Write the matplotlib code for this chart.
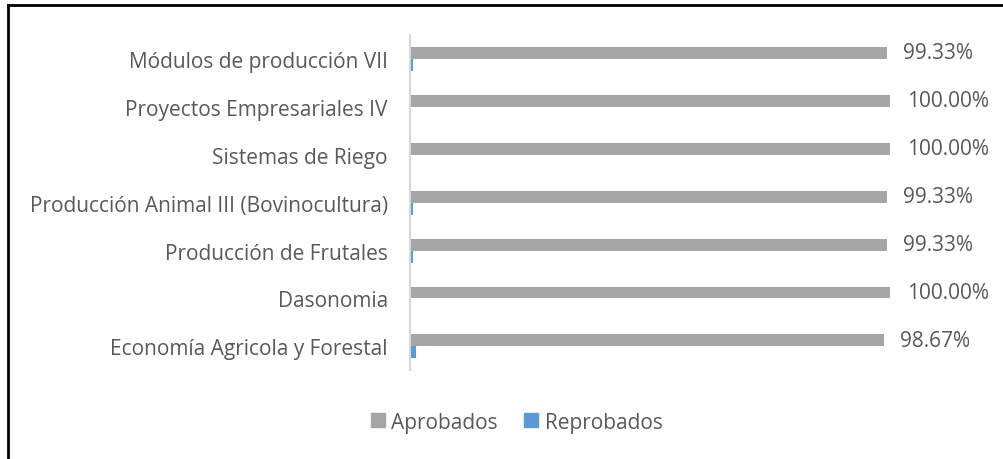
import numpy as np
import matplotlib
matplotlib.use("Agg")
import matplotlib.pyplot as plt
from matplotlib.lines import Line2D
from matplotlib.patches import Patch

# data (top to bottom as shown)
cursos = ["Módulos de producción VII", "Proyectos Empresariales IV", "Sistemas de Riego",
          "Producción Animal III (Bovinocultura)", "Producción de Frutales", "Dasonomia",
          "Economía Agricola y Forestal"]
aprobados = [99.33, 100.00, 100.00, 99.33, 99.33, 100.00, 98.67]
reprobados = [0.67, 0.00, 0.00, 0.67, 0.67, 0.00, 1.33]

GRAY = "#A5A5A5"
BLUE = "#5B9BD5"
TXT = "#595959"
FS = 15
plt.rcParams["font.family"] = ["Open Sans", "DejaVu Sans"]

fig = plt.figure(figsize=(10.04, 4.6), dpi=100)
ax = fig.add_axes([0.4084, 0.1924, 0.478, 0.7304])

y = np.arange(len(cursos))
h = 0.25
ax.barh(y - h / 2, aprobados, height=h, color=GRAY, label="Aprobados")
ax.barh(y + h / 2, reprobados, height=h, color=BLUE, label="Reprobados")

for yi, v in zip(y, aprobados):
    ax.annotate(f"{v:.2f}%", (v, yi - h / 2), xytext=(12, 0), textcoords="offset points",
                va="center", ha="left", fontsize=FS, color=TXT, annotation_clip=False)

ax.set_xlim(0, 100)
ax.set_ylim(len(cursos) - 0.5, -0.5)
ax.set_yticks(y)
ax.set_yticklabels(cursos, fontsize=FS, color=TXT)
ax.tick_params(axis="y", length=0, pad=16)
ax.set_xticks([])
for s in ["top", "right", "bottom"]:
    ax.spines[s].set_visible(False)
ax.spines["left"].set_color("#D9D9D9")
ax.spines["left"].set_linewidth(1.5)

handles = [Patch(color=GRAY, label="Aprobados"), Patch(color=BLUE, label="Reprobados")]
fig.legend(handles=handles, loc="center", bbox_to_anchor=(0.5145, 0.08), ncol=2,
           frameon=False, fontsize=FS, labelcolor=TXT, handlelength=0.67,
           handleheight=0.67, handletextpad=0.3, columnspacing=1.3)

# outer border (only left and top visible in the crop)
fig.add_artist(Line2D([0.0075, 0.0075], [0, 0.987], color="black", lw=2))
fig.add_artist(Line2D([0.0075, 1.0], [0.987, 0.987], color="black", lw=2))

fig.savefig("out.png", dpi=100)
